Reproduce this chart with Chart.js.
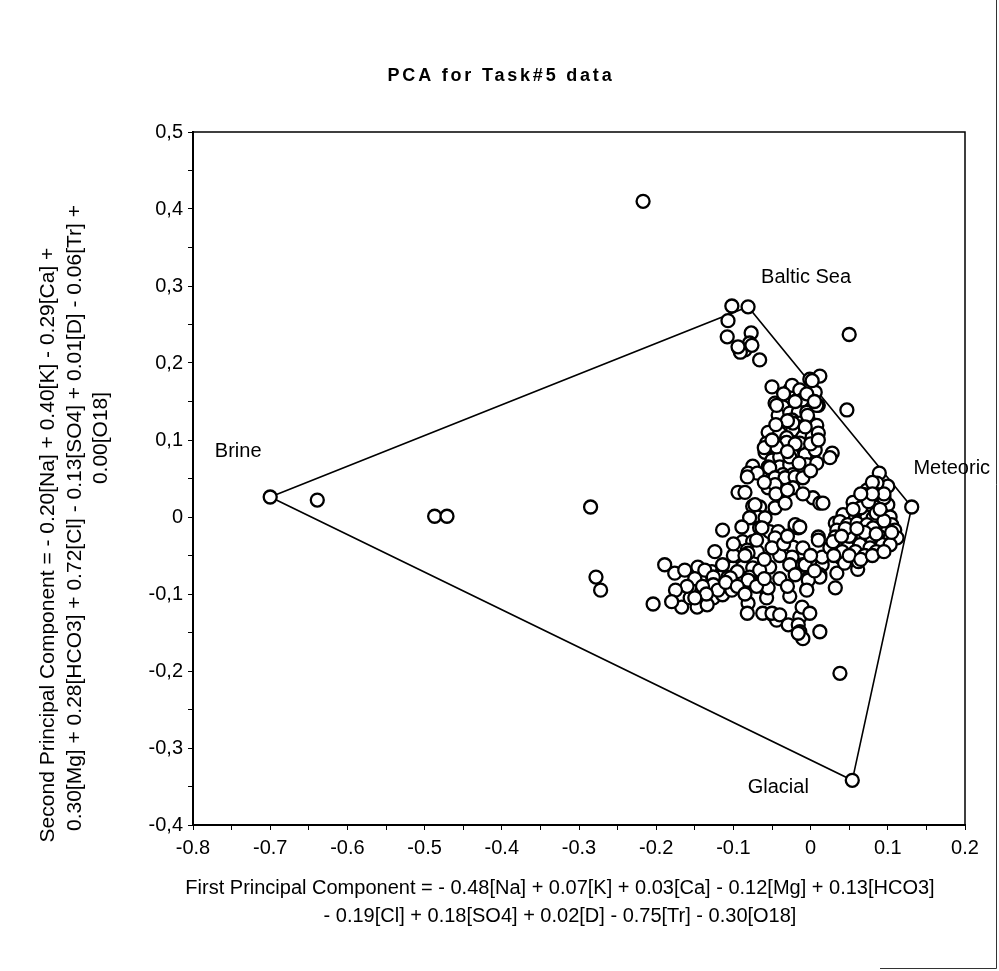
<!DOCTYPE html>
<html>
<head>
<meta charset="utf-8">
<script src="https://cdn.jsdelivr.net/npm/chart.js@4.4.1/dist/chart.umd.min.js"></script>
<style>
html,body{margin:0;padding:0;background:#fff;}
#wrap{width:999px;height:971px;}
canvas{display:block;}
</style>
</head>
<body>
<div id="wrap"><canvas id="c" width="999" height="971"></canvas></div>
<script>
// ---- DATA ----
const chartTitle = 'PCA for Task#5 data';
const xTitleLines = [
  'First Principal Component = - 0.48[Na] + 0.07[K] + 0.03[Ca] - 0.12[Mg] + 0.13[HCO3]',
  '- 0.19[Cl] + 0.18[SO4] + 0.02[D] - 0.75[Tr] - 0.30[O18]'
];
const yTitleLines = [
  'Second Principal Component = - 0.20[Na] + 0.40[K] - 0.29[Ca] +',
  '0.30[Mg] + 0.28[HCO3] + 0.72[Cl] - 0.13[SO4] + 0.01[D] - 0.06[Tr] +',
  '0.00[O18]'
];
const xTickLabels = ['-0.8','-0.7','-0.6','-0.5','-0.4','-0.3','-0.2','-0.1','0','0.1','0.2'];
const yTickLabels = ['-0,4','-0,3','-0,2','-0,1','0','0,1','0,2','0,3','0,4','0,5'];

// end-member (hull) vertices
const hullNames = ['Brine','Baltic Sea','Meteoric','Glacial'];
const hullX = [-0.700, -0.081, 0.131, 0.054];
const hullY = [0.026, 0.273, 0.013, -0.342];

// sample scores
const sampleX = [
-0.217,-0.639,-0.487,-0.471,-0.285,-0.278,-0.272,-0.204,0.050,0.047,0.038,
-0.102,-0.107,-0.108,-0.077,-0.079,-0.093,-0.085,-0.091,-0.066,-0.094,-0.076,
-0.050,-0.027,-0.024,-0.014,-0.001,0.012,0.006,0.002,-0.011,0.010,-0.046,-0.036,-0.042,-0.027,-0.016,-0.005,
-0.024,-0.014,-0.003,0.008,0.008,-0.001,-0.016,-0.023,-0.055,-0.040,-0.031,-0.010,0.002,-0.011,-0.057,-0.059,
-0.046,-0.033,-0.036,-0.024,-0.007,0.006,0.028,-0.050,-0.040,-0.055,-0.040,-0.027,-0.005,0.008,-0.075,-0.081,
-0.069,-0.049,-0.036,-0.023,-0.010,
-0.044,-0.004,0.008,-0.023,-0.007,0.010,-0.014,-0.031,-0.044,-0.027,-0.053,-0.082,-0.046,-0.033,-0.020,-0.010,
-0.094,-0.085,-0.055,-0.046,-0.023,-0.036,0.003,0.012,-0.066,-0.075,-0.046,-0.068,-0.079,-0.059,-0.114,-0.089,
-0.066,-0.053,-0.042,-0.020,-0.016,0.010,0.032,
-0.072,-0.046,-0.088,-0.075,-0.095,-0.082,-0.069,-0.124,-0.023,-0.024,-0.189,-0.176,-0.163,-0.146,-0.128,-0.114,
-0.101,-0.088,-0.075,-0.053,-0.027,-0.117,-0.107,-0.091,-0.079,
-0.167,-0.167,-0.156,-0.147,-0.141,-0.127,-0.126,-0.114,-0.102,-0.095,-0.081,-0.066,-0.078,-0.081,-0.082,-0.057,
-0.057,-0.062,-0.049,-0.044,-0.063,-0.046,
-0.137,-0.126,-0.126,-0.134,-0.114,-0.104,-0.081,-0.010,0.015,0.012,-0.003,-0.005,-0.055,-0.027,-0.050,-0.040,
-0.029,-0.014,-0.011,-0.001,-0.016,-0.014,-0.010,0.012,
-0.033,-0.020,-0.014,-0.007,0.010,0.015,0.029,0.038,0.034,0.012,-0.003,-0.005,0.032,-0.016,
0.089,0.100,0.083,0.073,0.087,0.068,0.055,0.074,0.087,0.100,0.054,0.042,0.067,0.073,0.081,0.093,0.103,0.038,
0.048,0.060,0.073,0.094,0.105,0.034,0.047,0.062,0.081,0.099,0.109,0.032,0.042,0.055,0.068,0.080,0.090,0.103,
0.112,0.036,0.048,0.064,0.077,0.093,0.103,0.041,0.025,0.029,0.016,0.025,0.086,0.070,0.087,0.061,
0.060,0.085,0.095,0.070,0.085,0.058,0.070,0.085,0.095,0.080,0.065,0.050,0.044,0.062,
-0.035,-0.020,-0.005,0.005,-0.030,-0.045,-0.060,-0.050,-0.020,0.000,0.010,-0.030,-0.015,0.000,-0.060,-0.045,
-0.030,-0.010,
-0.150,-0.140,-0.120,-0.110,-0.095,-0.085,-0.070,-0.060,-0.040,-0.030,-0.020,-0.100,-0.085,-0.060,-0.040,-0.050,
-0.100,-0.070,-0.035,-0.030,-0.010,0.000,0.005,-0.135,-0.160,-0.175,-0.180,-0.150,
0.055,0.045,0.060,0.075,0.090,0.095,0.080,0.065,0.050,0.065,0.080,0.095,0.105,0.040,0.030
];
const sampleY = [
0.410,0.022,0.001,0.001,0.013,-0.078,-0.095,-0.113,0.237,0.139,-0.203,
0.274,0.255,0.234,0.239,0.226,0.219,0.217,0.214,0.204,0.221,0.223,
0.169,0.165,0.171,0.165,0.179,0.183,0.162,0.177,0.152,0.145,0.148,0.143,0.132,0.135,0.136,0.136,
0.126,0.122,0.126,0.119,0.106,0.106,0.117,0.113,0.110,0.109,0.103,0.104,0.104,0.094,0.096,0.084,
0.090,0.096,0.083,0.081,0.081,0.087,0.083,0.074,0.078,0.065,0.065,0.068,0.068,0.070,0.066,0.057,
0.057,0.052,0.055,0.055,0.055,
0.145,0.132,0.145,0.122,0.117,0.109,0.096,0.097,0.091,0.078,0.064,0.052,0.051,0.051,0.052,0.051,
0.032,0.032,0.038,0.042,0.038,0.023,0.025,0.018,0.013,0.014,0.012,0.000,-0.001,-0.001,-0.017,-0.013,
-0.014,-0.019,-0.019,-0.013,-0.014,-0.026,-0.008,
0.016,-0.030,-0.032,-0.032,-0.043,-0.043,-0.045,-0.045,-0.039,-0.052,-0.062,-0.073,-0.069,-0.065,-0.071,-0.069,
-0.066,-0.065,-0.066,-0.065,-0.062,-0.078,-0.078,-0.078,-0.078,
-0.104,-0.117,-0.105,-0.117,-0.097,-0.078,-0.105,-0.101,-0.095,-0.071,-0.047,-0.069,-0.084,-0.112,-0.125,-0.095,
-0.105,-0.125,-0.127,-0.134,-0.014,-0.027,
-0.069,-0.078,-0.088,-0.114,-0.062,-0.079,-0.082,-0.062,-0.062,-0.075,-0.079,-0.094,-0.092,-0.103,-0.125,-0.127,
-0.140,-0.130,-0.117,-0.125,-0.140,-0.149,-0.158,-0.149,
0.018,-0.010,-0.013,-0.062,-0.030,-0.052,-0.039,-0.052,-0.073,-0.078,-0.082,-0.095,-0.092,-0.151,
0.057,0.040,0.038,0.035,0.026,0.022,0.019,0.012,0.016,0.016,0.005,0.003,0.000,0.000,-0.001,0.003,0.000,-0.006,
-0.010,-0.008,-0.010,-0.010,-0.010,-0.017,-0.019,-0.021,-0.014,-0.019,-0.017,-0.026,-0.030,-0.032,-0.026,-0.030,-0.026,-0.027,
-0.027,-0.036,-0.039,-0.036,-0.040,-0.036,-0.036,-0.045,-0.040,-0.032,0.018,0.077,0.044,0.029,0.029,-0.068,
0.010,0.005,-0.005,-0.020,-0.022,-0.045,-0.050,-0.045,0.025,0.045,0.012,-0.025,-0.060,-0.058,
0.160,0.150,0.160,0.150,0.125,0.120,0.090,0.100,0.095,0.095,0.100,0.085,0.070,0.060,0.045,0.030,
0.035,0.030,
-0.080,-0.090,-0.095,-0.085,-0.090,-0.100,-0.090,-0.080,-0.080,-0.090,-0.075,-0.050,-0.050,-0.055,-0.050,-0.040,
-0.035,-0.030,-0.035,-0.025,-0.040,-0.050,-0.070,-0.100,-0.090,-0.095,-0.110,-0.105,
0.010,-0.015,-0.015,0.020,0.010,0.030,0.030,0.030,-0.050,-0.055,-0.050,-0.045,-0.020,-0.025,-0.050
];

// ---- BUILD ----
const FONT = "'Liberation Sans', Arial, Helvetica, sans-serif";
const samplePts = sampleX.map((x,i)=>({x:x, y:sampleY[i]}));
const hullPts = hullX.map((x,i)=>({x:x, y:hullY[i]}));
const hullLine = hullPts.concat([hullPts[0]]);
const allPts = hullPts.concat(samplePts);

function labelFor(v, labels, min){
  const k = Math.round(v*100);
  if (k % 10 !== 0) return '';
  const idx = Math.round((k - Math.round(min*100))/10);
  return labels[idx] !== undefined ? labels[idx] : '';
}

const decorPlugin = {
  id:'decor',
  afterDraw(chart){
    const ctx = chart.ctx, ca = chart.chartArea;
    const xs = chart.scales.x, ys = chart.scales.y;
    ctx.save();
    ctx.strokeStyle='#000'; ctx.lineWidth=1.5;
    ctx.beginPath();
    ctx.moveTo(ca.left, ca.top); ctx.lineTo(ca.right, ca.top); ctx.lineTo(ca.right, ca.bottom);
    ctx.stroke();
    // outer chart frame (right edge, bottom-right edge)
    ctx.strokeStyle='#333'; ctx.lineWidth=1;
    ctx.beginPath();
    ctx.moveTo(996.5, 0); ctx.lineTo(996.5, 968.5); ctx.lineTo(880, 968.5);
    ctx.stroke();
    ctx.fillStyle='#000';
    ctx.font = "bold 18px "+FONT;
    ctx.textAlign='center'; ctx.textBaseline='middle';
    try{ ctx.letterSpacing='2.8px'; }catch(e){}
    ctx.fillText(chartTitle, 501, 76);
    try{ ctx.letterSpacing='0px'; }catch(e){}
    ctx.font = "20px "+FONT;
    ctx.fillText(xTitleLines[0], 560, 888);
    ctx.fillText(xTitleLines[1], 560, 916);
    ctx.font = "21px "+FONT;
    const yx=[48,75,101], yc=[545,518,438];
    yTitleLines.forEach((t,i)=>{
      ctx.save();
      ctx.translate(yx[i], yc[i]);
      ctx.rotate(-Math.PI/2);
      ctx.fillText(t,0,0);
      ctx.restore();
    });
    ctx.font = "20px "+FONT;
    const offs = [[-32,-45],[58,-29],[40,-39],[-74,7]];
    hullPts.forEach((p,i)=>{
      const px = xs.getPixelForValue(p.x), py = ys.getPixelForValue(p.y);
      ctx.fillText(hullNames[i], px+offs[i][0], py+offs[i][1]);
    });
    ctx.restore();
  }
};

new Chart(document.getElementById('c'), {
  type:'scatter',
  data:{
    datasets:[
      {
        label:'samples', data: allPts,
        pointRadius:6.5, pointHoverRadius:6.5, pointBorderWidth:2.3,
        borderColor:'#000', backgroundColor:'#fff', showLine:false
      },
      {
        label:'hull', data: hullLine, showLine:true, fill:false,
        borderColor:'#000', borderWidth:1.6, pointRadius:0, tension:0
      }
    ]
  },
  options:{
    responsive:false, animation:false, devicePixelRatio:1,
    layout:{padding:{left:0, top:132, right:34, bottom:0}},
    plugins:{legend:{display:false}, title:{display:false}, tooltip:{enabled:false}},
    events:[],
    scales:{
      x:{
        type:'linear', min:-0.8, max:0.2,
        afterFit(s){ s.height = 146; },
        border:{display:true, color:'#000', width:2},
        grid:{display:true, drawOnChartArea:false, drawTicks:true, tickLength:5, color:'#000', lineWidth:1},
        ticks:{stepSize:0.05, autoSkip:false, maxRotation:0, color:'#000', padding:6,
          font:{family:FONT, size:20},
          callback:(v)=>labelFor(v, xTickLabels, -0.8)}
      },
      y:{
        type:'linear', min:-0.4, max:0.5,
        afterFit(s){ s.width = 193; },
        border:{display:true, color:'#000', width:2},
        grid:{display:true, drawOnChartArea:false, drawTicks:true, tickLength:5, color:'#000', lineWidth:1},
        ticks:{stepSize:0.05, autoSkip:false, color:'#000', padding:5,
          font:{family:FONT, size:20},
          callback:(v)=>labelFor(v, yTickLabels, -0.4)}
      }
    }
  },
  plugins:[decorPlugin]
});
</script>
</body>
</html>
